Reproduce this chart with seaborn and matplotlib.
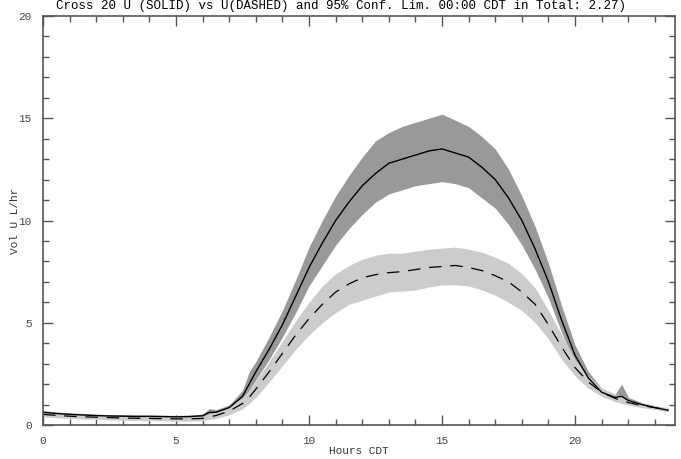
import numpy as np
import pandas as pd
import matplotlib
matplotlib.use("Agg")
import matplotlib.pyplot as plt
import seaborn as sns

# hours of day (CDT)
hours = [0, 0.5, 1, 1.5, 2, 2.5, 3, 3.5, 4, 4.5, 5, 5.5, 6, 6.25, 6.5, 7, 7.5, 7.75, 8,
         8.5, 9, 9.5, 10, 10.5, 11, 11.5, 12, 12.5, 13, 13.5, 14, 14.5, 15, 15.5, 16,
         16.5, 17, 17.5, 18, 18.5, 19, 19.5, 20, 20.5, 21, 21.5, 21.75, 22, 22.5, 23, 23.5]

# solid series (mean) and its 95% limits
solid = [0.62, 0.56, 0.52, 0.49, 0.46, 0.44, 0.43, 0.42, 0.42, 0.41, 0.40, 0.41, 0.45, 0.62, 0.62,
         0.85, 1.4, 2.0, 2.6, 3.7, 4.9, 6.3, 7.7, 8.9, 10.0, 10.9, 11.7, 12.3, 12.8, 13.0,
         13.2, 13.4, 13.5, 13.3, 13.1, 12.6, 12.0, 11.1, 10.0, 8.6, 7.0, 5.1, 3.4, 2.3, 1.6,
         1.35, 1.4, 1.2, 1.0, 0.85, 0.72]
solid_lo = [0.55, 0.49, 0.45, 0.42, 0.40, 0.38, 0.37, 0.36, 0.36, 0.35, 0.35, 0.36, 0.39, 0.52, 0.54,
            0.75, 1.2, 1.7, 2.2, 3.2, 4.3, 5.5, 6.8, 7.8, 8.8, 9.6, 10.3, 10.9, 11.3, 11.5,
            11.7, 11.8, 11.9, 11.8, 11.6, 11.1, 10.6, 9.8, 8.8, 7.6, 6.2, 4.5, 3.0, 2.05, 1.45,
            1.25, 1.3, 1.1, 0.92, 0.78, 0.66]
solid_hi = [0.70, 0.64, 0.59, 0.56, 0.53, 0.51, 0.50, 0.49, 0.49, 0.48, 0.47, 0.48, 0.53, 0.80, 0.75,
            0.98, 1.7, 2.6, 3.1, 4.3, 5.6, 7.1, 8.7, 10.0, 11.2, 12.2, 13.1, 13.9, 14.3, 14.6,
            14.8, 15.0, 15.2, 14.9, 14.6, 14.1, 13.5, 12.5, 11.2, 9.7, 7.9, 5.8, 3.9, 2.6, 1.8,
            1.5, 2.0, 1.35, 1.1, 0.93, 0.80]

# dashed series (mean) and its 95% limits
dashed = [0.52, 0.47, 0.43, 0.40, 0.38, 0.36, 0.34, 0.33, 0.32, 0.31, 0.30, 0.30, 0.32, 0.40, 0.46,
          0.68, 1.05, 1.35, 1.75, 2.6, 3.5, 4.4, 5.2, 5.9, 6.5, 6.9, 7.2, 7.35, 7.45, 7.5,
          7.6, 7.7, 7.75, 7.8, 7.7, 7.55, 7.3, 7.0, 6.5, 5.9, 4.9, 3.8, 2.8, 2.1, 1.6,
          1.3, 1.2, 1.1, 0.95, 0.85, 0.74]
dashed_lo = [0.40, 0.36, 0.32, 0.29, 0.27, 0.25, 0.23, 0.22, 0.21, 0.20, 0.19, 0.19, 0.21, 0.27, 0.32,
             0.50, 0.80, 1.05, 1.35, 2.1, 2.9, 3.7, 4.4, 5.0, 5.5, 5.9, 6.1, 6.3, 6.5, 6.55,
             6.6, 6.75, 6.85, 6.85, 6.8, 6.6, 6.35, 6.0, 5.6, 5.0, 4.2, 3.2, 2.4, 1.8, 1.4,
             1.15, 1.05, 0.98, 0.85, 0.76, 0.66]
dashed_hi = [0.64, 0.58, 0.54, 0.51, 0.49, 0.47, 0.45, 0.44, 0.43, 0.42, 0.41, 0.41, 0.44, 0.55, 0.62,
             0.88, 1.35, 1.70, 2.15, 3.1, 4.1, 5.1, 6.0, 6.8, 7.4, 7.8, 8.1, 8.3, 8.4, 8.4,
             8.5, 8.6, 8.65, 8.7, 8.6, 8.45, 8.2, 7.9, 7.4, 6.7, 5.6, 4.4, 3.2, 2.4, 1.8,
             1.5, 1.4, 1.25, 1.07, 0.95, 0.84]

title = "Cross 20 U (SOLID) vs U(DASHED) and 95% Conf. Lim. 00:00 CDT in Total: 2.27)"

df = pd.DataFrame({"hours": hours, "solid": solid, "dashed": dashed})

sns.set_style("ticks")
plt.rcParams['font.family'] = ['Liberation Mono', 'DejaVu Sans Mono']

fig = plt.figure(figsize=(6.81, 4.59), dpi=100)
ax = fig.add_axes([0.0631, 0.0741, 0.9279, 0.8910])

ax.fill_between(hours, solid_lo, solid_hi, color='#999999', lw=0)
ax.fill_between(hours, dashed_lo, dashed_hi, color='#cccccc', lw=0)
sns.lineplot(data=df, x="hours", y="solid", ax=ax, color='black', lw=1.0)
sns.lineplot(data=df, x="hours", y="dashed", ax=ax, color='black', lw=0.9,
             dashes=False, linestyle=(0, (10, 7)))

ax.set_xlim(0, 23.75)
ax.set_ylim(0, 20)
ax.set_xticks([0, 5, 10, 15, 20])
ax.set_yticks([0, 5, 10, 15, 20])
ax.set_xticks(np.arange(0, 24, 1), minor=True)
ax.set_yticks(np.arange(0, 21, 1), minor=True)
ax.tick_params(which='both', direction='in', top=True, right=True,
               colors='#555555', labelcolor='#444444', labelsize=8, width=1)
ax.tick_params(which='major', length=7, pad=8)
ax.tick_params(which='minor', length=4)
for s in ax.spines.values():
    s.set_color('#555555')
    s.set_linewidth(1.2)

ax.set_xlabel('Hours CDT', fontsize=8, color='#333333', labelpad=0)
ax.set_ylabel('Vol U L/hr', fontsize=8, color='#333333')
ax.yaxis.set_label_coords(-0.037, 0.5)

fig.text(0.5, 0.999, title, ha='center', va='top', fontsize=9, color='black')

fig.savefig('out.png', dpi=100)
